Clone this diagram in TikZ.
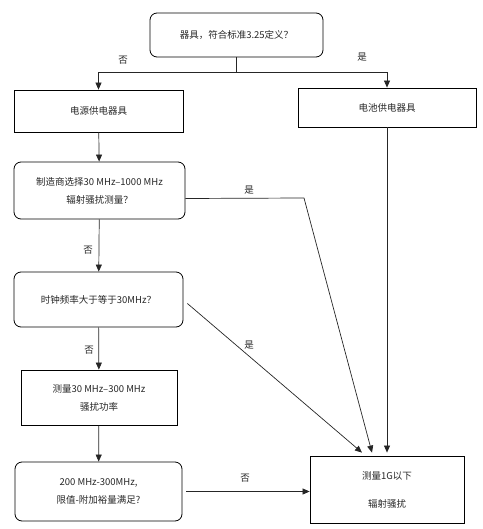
\documentclass[tikz,border=0pt]{standalone}
\usepackage{fontspec}
\setmainfont{Noto Sans CJK SC}
\usetikzlibrary{arrows.meta}

\begin{document}
\begin{tikzpicture}[x=1pt,y=-1pt]
    \useasboundingbox (0,0) rectangle (482,529);
    \tikzset{
        box/.style={draw=black, line width=0.8pt, inner sep=0pt, align=center,
            text=black!85, font=\fontsize{9.5}{18}\selectfont},
        decision/.style={box, rounded corners=7pt},
        flow/.style={draw=black!85, line width=0.7pt},
        arrow/.style={flow, -{Triangle[length=7pt,width=6pt]}},
        answer/.style={text=black!85, font=\fontsize{9.5}{12}\selectfont}
    }
    \begin{scope}
    % Boxes:
    \node[decision, minimum width=173pt, minimum height=44pt] (appliance) at (236.5,35) {器具，符合标准3.25定义？};
    \node[box, minimum width=169pt, minimum height=42pt] (mains) at (98.5,111) {电源供电器具};
    \node[box, minimum width=178pt, minimum height=39pt] (battery) at (387,107.5) {电池供电器具};
    \node[decision, minimum width=171pt, minimum height=57pt] (choice) at (99.5,190.5) {制造商选择30 MHz–1000 MHz\\辐射骚扰测量？};
    \node[decision, minimum width=169pt, minimum height=55pt] (clock) at (98.5,299.5) {时钟频率大于等于30MHz？};
    \node[box, minimum width=156pt, minimum height=55pt] (power) at (99,397.5) {测量30 MHz–300 MHz\\骚扰功率};
    \node[decision, minimum width=167pt, minimum height=59pt] (limit) at (98.5,491.5) {200 MHz-300MHz,\\限值-附加裕量满足?};
    \node[box, minimum width=154pt, minimum height=67pt] (radiated) at (387,489.5) {测量1G以下\\[10pt]辐射骚扰};

    % Branch below the first question
    \coordinate (split) at (236.5,72);
    \coordinate (kink) at (304,198);
    \draw[flow] (appliance.south) -- (split);
    \draw[arrow] (split) -| (mains.north);
    \draw[arrow] (split) -| (battery.north);

    % Left column
    \draw[arrow] (mains) -- (choice);
    \draw[arrow] (choice) -- (clock);
    \draw[arrow] (clock) -- (power);
    \draw[arrow] (power) -- (limit);

    % Towards the radiated measurement
    \draw[flow] ([yshift=-8pt]choice.east) -- (kink);
    \draw[arrow] (kink) -- ([xshift=-15pt,yshift=3pt]radiated.north);
    \draw[arrow] ([xshift=4pt,yshift=-4pt]clock.east) -- ([xshift=-25pt,yshift=3pt]radiated.north);
    \draw[arrow] (battery) -- ([yshift=3pt]radiated.north);
    \draw[arrow] ([xshift=4pt]limit.east) -- (limit.east -| radiated.west);

    % Answers
    \node[answer] (no1) at (123,60) {否};
    \node[answer] (yes1) at (362,57) {是};
    \node[answer] (yes2) at (249,190) {是};
    \node[answer] (no2) at (88,250) {否};
    \node[answer] (yes3) at (249,345) {是};
    \node[answer] (no3) at (89,350) {否};
    \node[answer] (no4) at (245,478) {否};
    \end{scope}
\end{tikzpicture}
\end{document}
